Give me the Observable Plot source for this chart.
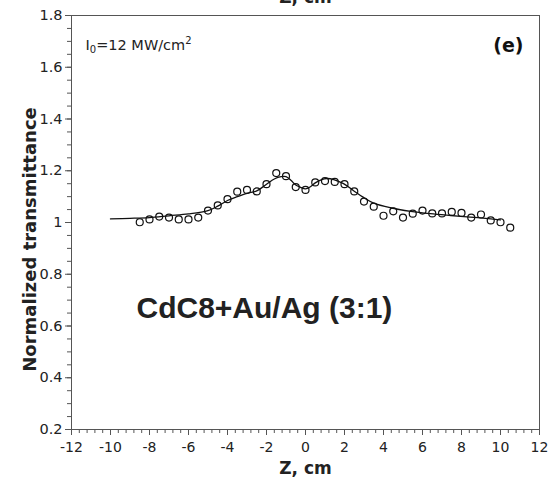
<!DOCTYPE html>
<html><head><meta charset="utf-8">
<script src="https://cdn.jsdelivr.net/npm/d3@7"></script>
<script src="https://cdn.jsdelivr.net/npm/@observablehq/plot@0.6"></script>
<style>body{margin:0;background:#fff} svg{display:block}</style>
</head><body><div id="chart"></div>
<script>
// measured points (open circles)
const zPoints = [-8.5,-8,-7.5,-7,-6.5,-6,-5.5,-5,-4.5,-4,-3.5,-3,-2.5,-2,-1.5,-1,-0.5,0,0.5,1,1.5,2,2.5,3,3.5,4,4.5,5,5.5,6,6.5,7,7.5,8,8.5,9,9.5,10,10.5];
const tPoints = [1.001,1.012,1.023,1.019,1.012,1.012,1.019,1.046,1.066,1.090,1.119,1.126,1.120,1.148,1.191,1.179,1.137,1.126,1.155,1.160,1.157,1.148,1.120,1.081,1.061,1.026,1.043,1.019,1.034,1.046,1.035,1.035,1.041,1.037,1.019,1.031,1.008,1.001,0.980];
// theoretical fit (solid line)
const zFit = [-10,-9,-8,-7,-6,-5,-4.5,-4,-3.5,-3,-2.5,-2,-1.6,-1.25,-1,-0.75,-0.5,-0.25,0,0.25,0.5,0.8,1.1,1.45,1.95,2.45,2.95,3.5,4.35,5.4,6.4,7.45,8.45,9.5,10];
const tFit = [1.014,1.016,1.019,1.026,1.033,1.046,1.063,1.085,1.100,1.113,1.122,1.148,1.168,1.177,1.177,1.163,1.145,1.136,1.130,1.138,1.153,1.165,1.170,1.166,1.150,1.124,1.098,1.075,1.057,1.043,1.034,1.027,1.021,1.014,1.010];

const xTicks = [-12,-10,-8,-6,-4,-2,0,2,4,6,8,10,12];
const xTickLabels = ["-12","-10","-8","-6","-4","-2","0","2","4","6","8","10","12"];
const yTicks = [0.2,0.4,0.6,0.8,1.0,1.2,1.4,1.6,1.8];
const yTickLabels = ["0.2","0.4","0.6","0.8","1","1.2","1.4","1.6","1.8"];
const xMinor = d3.range(0, 61).map(i => -12 + i * 0.4);
const yMinor = d3.range(0, 33).map(i => 0.2 + i * 0.05);

const annotationParts = ["I", "0", "=12 MW/cm", "2"];
const annotation = annotationParts.join("");
const panelLabel = "(e)";
const sampleLabel = "CdC8+Au/Ag (3:1)";
const xLabel = "Z, cm";
const yLabel = "Normalized transmittance";

const points = zPoints.map((z, i) => ({z, t: tPoints[i]}));
const fit = zFit.map((z, i) => ({z, t: tFit[i]}));

const axisColor = "#555";
const textColor = "#222";

const chart = Plot.plot({
  width: 548, height: 478,
  marginLeft: 71, marginRight: 9, marginTop: 15, marginBottom: 49,
  style: {fontFamily: "DejaVu Sans", fontSize: "14px", color: textColor, background: "#fff"},
  x: {domain: [-12, 12]},
  y: {domain: [0.2, 1.8]},
  marks: [
    Plot.frame({stroke: axisColor}),
    Plot.axisX(xMinor, {tickSize: 4, text: null, stroke: axisColor, label: null}),
    Plot.axisX(xTicks, {tickSize: 6, tickPadding: 7, stroke: axisColor, fill: textColor, fontSize: 14,
      tickFormat: d => xTickLabels[xTicks.indexOf(d)], label: null}),
    Plot.axisY(yMinor, {tickSize: 4, text: null, stroke: axisColor, label: null}),
    Plot.axisY(yTicks, {tickSize: 6, tickPadding: 3, stroke: axisColor, fill: textColor, fontSize: 14.5,
      tickFormat: d => yTickLabels[yTicks.indexOf(d)], label: null}),
    Plot.line(fit, {x: "z", y: "t", curve: "catmull-rom", stroke: "#111", strokeWidth: 1.3}),
    Plot.dot(points, {x: "z", y: "t", r: 3.5, stroke: "#111", strokeWidth: 1.2, fill: "none"}),
    Plot.text([yLabel], {frameAnchor: "left", rotate: -90, dx: -36, dy: 17, textAnchor: "middle", lineAnchor: "bottom",
      fontWeight: "bold", fontSize: 18, fill: textColor}),
    Plot.text([xLabel], {frameAnchor: "bottom", dy: 44, lineAnchor: "bottom",
      fontWeight: "bold", fontSize: 17, fill: textColor}),
    Plot.text([xLabel], {frameAnchor: "top", dy: -13, lineAnchor: "bottom",
      fontWeight: "bold", fontSize: 17, fill: textColor}),
    Plot.text([annotation], {frameAnchor: "top-left", dx: 14, dy: 34, textAnchor: "start", lineAnchor: "bottom",
      fontSize: 14.5, fill: textColor, className: "annot"}),
    Plot.text([panelLabel], {frameAnchor: "top-right", dx: -16, dy: 36, textAnchor: "end", lineAnchor: "bottom",
      fontWeight: "bold", fontSize: 19, fill: "#111"}),
    Plot.text([sampleLabel], {frameAnchor: "top-left", dx: 65, dy: 302, textAnchor: "start", lineAnchor: "bottom",
      fontFamily: "Liberation Sans", fontWeight: "bold", fontSize: 30, fill: textColor})
  ]
});
// rich text for subscript / superscript in the annotation
d3.select(chart).selectAll("g.annot text").each(function() {
  const t = d3.select(this);
  t.text(null);
  t.append("tspan").text(annotationParts[0]);
  t.append("tspan").attr("font-size", 10).attr("dy", "3").text(annotationParts[1]);
  t.append("tspan").attr("dy", "-3").text(annotationParts[2]);
  t.append("tspan").attr("font-size", 10).attr("dy", "-6").text(annotationParts[3]);
});
document.getElementById("chart").appendChild(chart);
</script>
</body></html>
